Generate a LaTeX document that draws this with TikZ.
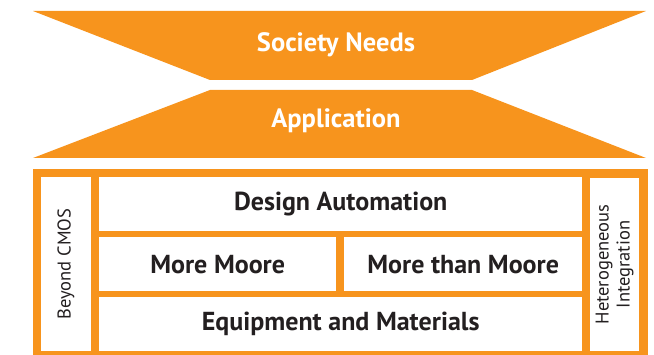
\documentclass[tikz,border=0pt]{standalone}
\usepackage{fontspec}
\setmainfont{PT Sans}
\usepackage{tikz}
\definecolor{naranja}{HTML}{F7941D}
\definecolor{tinta}{HTML}{231F20}
\tikzstyle{caja}=[fill=white, draw=none, inner sep=0pt, text=tinta, font=\fontsize{26}{28}\selectfont\bfseries]
\tikzstyle{lado}=[caja, rotate=90, align=center, font=\fontsize{18.5}{21}\selectfont]
\tikzstyle{titulo}=[text=white, font=\fontsize{26.5}{28}\selectfont\bfseries]

\begin{document}
\begin{tikzpicture}[x=1pt, y=-1pt]
            \useasboundingbox (0,0) rectangle (654,355);
            % Trapecios
            \fill[naranja] (33,11) -- (646,11) -- (472,80) -- (210,80) -- cycle;
            \fill[naranja] (210,90) -- (472,90) -- (646,158) -- (33,158) -- cycle;
            \node[titulo] (society) at (336,45) {Society Needs};
            \node[titulo] (app) at (336,121) {Application};
            % Marco
            \fill[naranja] (33,169) rectangle (648,355);
            % Cajas
            \node[caja, anchor=north west, minimum width=483, minimum height=54] (design) at (99,177) {Design Automation};
            \node[caja, anchor=north west, minimum width=237, minimum height=54] (more) at (99,237) {More Moore};
            \node[caja, anchor=north west, minimum width=238, minimum height=54] (morethan) at (344,237) {More than Moore};
            \node[caja, anchor=north west, minimum width=483, minimum height=54] (equip) at (99,297) {Equipment and Materials};
            \node[lado, minimum width=174, minimum height=50] (beyond) at (66,264) {Beyond CMOS};
            \node[lado, minimum width=173, minimum height=49] (hetero) at (614.5,264.5) {Heterogeneous\\Integration};
        \end{tikzpicture}
\end{document}
